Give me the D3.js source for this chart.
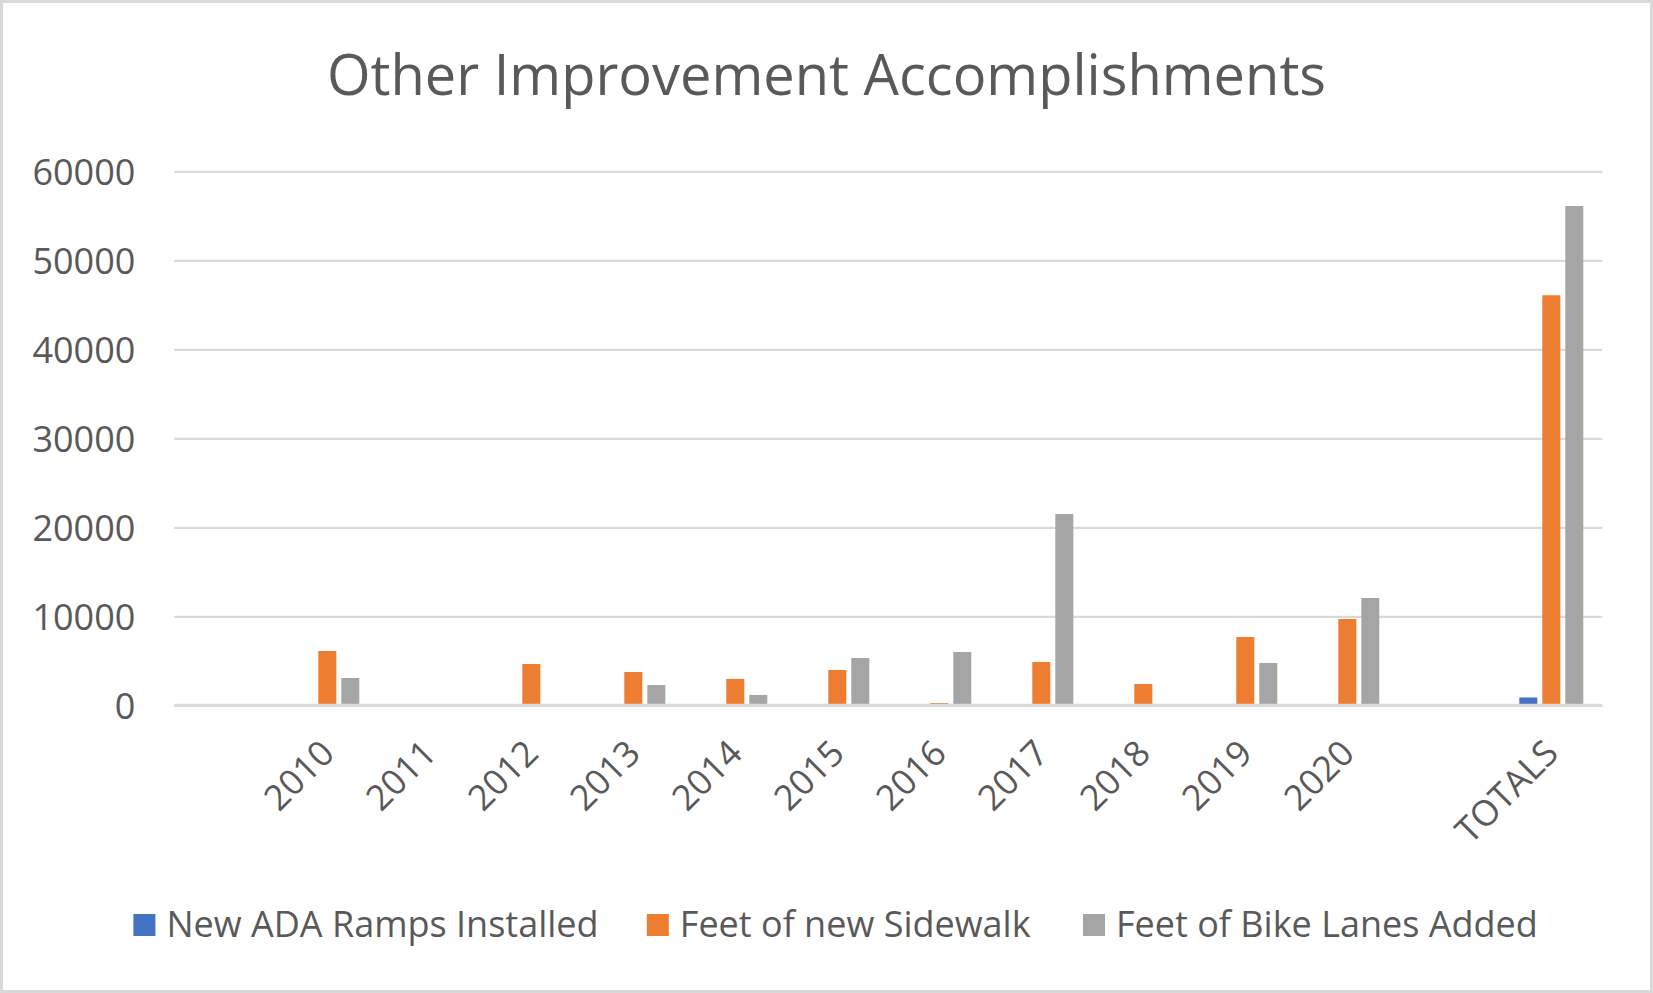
<!DOCTYPE html>
<html>
<head>
<meta charset="utf-8">
<script src="https://cdn.jsdelivr.net/npm/d3@7"></script>
<style>
  html, body { margin: 0; padding: 0; background: #fff; }
  svg { display: block; }
  text { font-family: "Open Sans", "Noto Sans", sans-serif; fill: #595959; }
</style>
</head>
<body>
<svg id="chart" width="1653" height="993"></svg>
<script>
// ---- data ----
const title = "Other Improvement Accomplishments";
const categories = ["", "2010", "2011", "2012", "2013", "2014", "2015", "2016", "2017", "2018", "2019", "2020", "", "TOTALS"];
const seriesNames = ["New ADA Ramps Installed", "Feet of new Sidewalk", "Feet of Bike Lanes Added"];
const adaRamps   = [0, 60, 40, 75, 90, 85, 70, 95, 110, 80, 90, 85, 0, 880];
const sidewalk   = [0, 6100, 0, 4640, 3740, 2960, 3970, 250, 4870, 2390, 7670, 9700, 0, 46070];
const bikeLanes  = [0, 3070, 0, 0, 2280, 1160, 5310, 5990, 21490, 0, 4750, 12060, 0, 56100];
const yTicks = [0, 10000, 20000, 30000, 40000, 50000, 60000];
const colors = ["#4472C4", "#ED7D31", "#A5A5A5"];

const seriesValues = [adaRamps, sidewalk, bikeLanes];

// ---- layout ----
const svg = d3.select("#chart");
const W = 1653, H = 993;
const plot = { left: 174.3, right: 1602.3, top: 171.3, bottom: 705.3 };

svg.append("rect")
  .attr("x", 1.5).attr("y", 1.5)
  .attr("width", W - 3).attr("height", H - 3)
  .attr("fill", "#fff").attr("stroke", "#d9d9d9").attr("stroke-width", 3);

svg.append("text")
  .attr("x", W / 2).attr("y", 95)
  .attr("text-anchor", "middle")
  .style("font-size", "56px")
  .text(title);

const x = d3.scaleBand()
  .domain(d3.range(categories.length))
  .range([plot.left, plot.right])
  .paddingInner(0).paddingOuter(0);

const groupW = 64;
const xs = d3.scaleBand()
  .domain(d3.range(seriesNames.length))
  .range([(x.bandwidth() - groupW) / 2, (x.bandwidth() + groupW) / 2])
  .paddingInner(5 / 23).paddingOuter(0);

const y = d3.scaleLinear().domain([0, 60000]).range([plot.bottom, plot.top]);

// gridlines
const yAxis = d3.axisLeft(y).tickValues(yTicks).tickFormat(d3.format("d"))
  .tickSize(-(plot.right - plot.left)).tickPadding(39);
const gy = svg.append("g").attr("transform", `translate(${plot.left},0)`).call(yAxis);
gy.select(".domain").remove();
gy.selectAll(".tick line").attr("stroke", "#d9d9d9").attr("stroke-width", 2.2);
gy.selectAll(".tick text")
  .style("font-size", "36px")
  .attr("fill", "#595959")
  .attr("dy", "0.36em");

// bars
const bars = svg.append("g");
seriesValues.forEach((vals, si) => {
  bars.selectAll(null)
    .data(vals.map((v, i) => ({ i, v })))
    .join("rect")
    .attr("x", d => x(d.i) + xs(si))
    .attr("width", xs.bandwidth())
    .attr("y", d => y(d.v))
    .attr("height", d => y(0) - y(d.v))
    .attr("fill", colors[si]);
});

// baseline (drawn over bar bottoms)
svg.append("line")
  .attr("x1", plot.left).attr("x2", plot.right)
  .attr("y1", y(0)).attr("y2", y(0))
  .attr("stroke", "#d9d9d9").attr("stroke-width", 3);

// x axis labels
const xAxis = d3.axisBottom(x).tickFormat(i => categories[i]).tickSize(0).tickPadding(0);
const gx = svg.append("g").attr("transform", `translate(0,${plot.bottom})`).call(xAxis);
gx.select(".domain").remove();
gx.selectAll(".tick text")
  .style("font-size", "35.5px")
  .attr("fill", "#595959")
  .attr("text-anchor", "end")
  .attr("y", 0).attr("dy", 0)
  .attr("transform", "translate(9,50) rotate(-45)");

// legend
const legendX = [133.4, 646.8, 1083];
const lg = svg.append("g");
seriesNames.forEach((name, i) => {
  lg.append("rect")
    .attr("x", legendX[i]).attr("y", 914)
    .attr("width", 22).attr("height", 22)
    .attr("fill", colors[i]);
  lg.append("text")
    .attr("x", legendX[i] + 33).attr("y", 937)
    .style("font-size", "36px")
    .text(name);
});
</script>
</body>
</html>
